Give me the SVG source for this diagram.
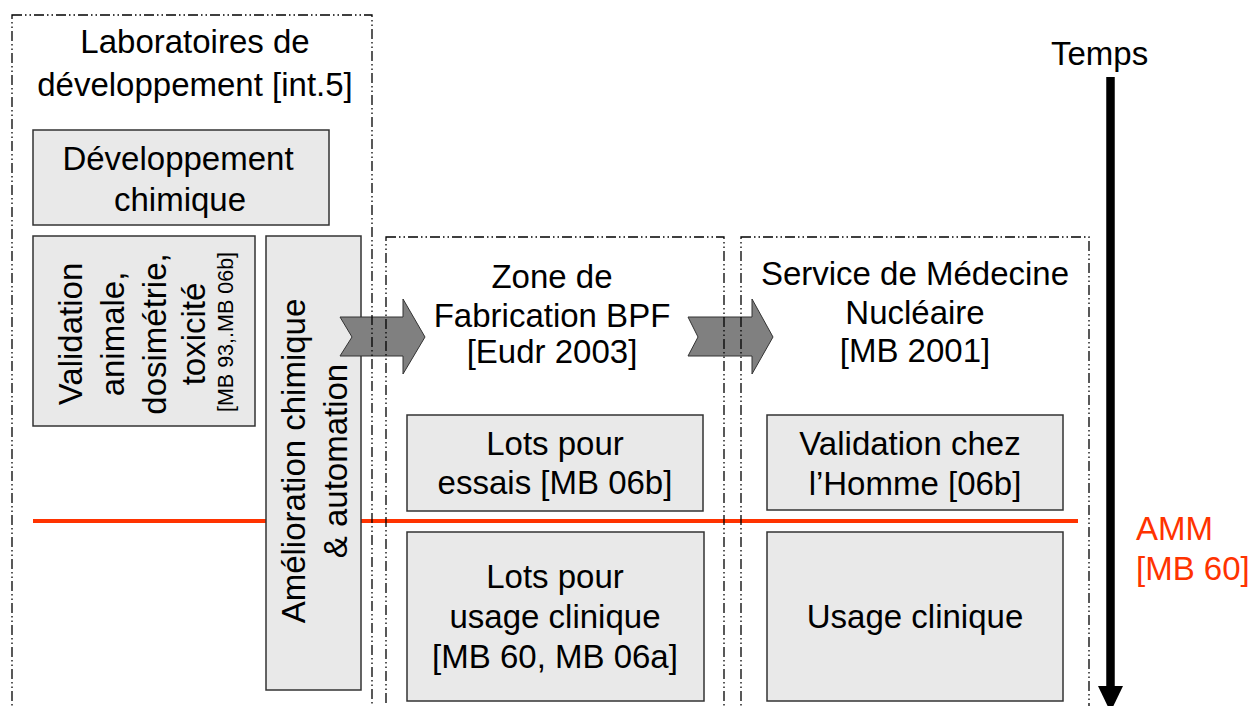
<svg xmlns="http://www.w3.org/2000/svg" width="1250" height="706" viewBox="0 0 1250 706">
<style>
  text { font-family: "Liberation Sans", Arial, sans-serif; font-size: 33px; fill: #000; }
  .c { text-anchor: middle; }
  .box { fill: #e9e9e9; stroke: #333; stroke-width: 1.5; }
  .zone { fill: none; stroke: #000; stroke-width: 1.3; stroke-dasharray: 10 3 1.5 3 1.5 3; }
  .arr { fill: #808080; stroke: #333; stroke-width: 1; }
  .red { fill: #ff3300; }
</style>
<rect width="1250" height="706" fill="#fff"/>

<!-- AMM line -->
<line id="amm-line" x1="33" y1="521" x2="1078" y2="521" stroke="#ff3300" stroke-width="4"/>

<g id="dev-chimique">
  <rect class="box" x="33" y="130" width="296" height="95"/>
  <text class="c" x="178" y="170">Développement</text>
  <text class="c" x="180" y="211">chimique</text>
</g>

<g id="validation-animale">
  <rect class="box" x="33" y="236" width="222" height="190"/>
  <text class="c" transform="translate(82,334) rotate(-90)">Validation</text>
  <text class="c" transform="translate(124,334) rotate(-90)">animale,</text>
  <text class="c" transform="translate(166,334) rotate(-90)">dosimétrie,</text>
  <text class="c" transform="translate(205,334) rotate(-90)">toxicité</text>
  <text class="c" style="font-size:21.5px" transform="translate(233,332) rotate(-90)">[MB 93,.MB 06b]</text>
</g>

<g id="amelioration">
  <rect class="box" x="266" y="236" width="95" height="454"/>
  <text class="c" transform="translate(305,461) rotate(-90)">Amélioration chimique</text>
  <text class="c" transform="translate(347,461) rotate(-90)">&amp; automation</text>
</g>

<g id="lots-essais">
  <rect class="box" x="407" y="415" width="296" height="96"/>
  <text class="c" x="555" y="455">Lots pour</text>
  <text class="c" x="555" y="494">essais [MB 06b]</text>
</g>

<g id="lots-clinique">
  <rect class="box" x="407" y="532" width="297" height="169"/>
  <text class="c" x="555" y="588">Lots pour</text>
  <text class="c" x="555" y="628">usage clinique</text>
  <text class="c" x="555" y="668">[MB 60, MB 06a]</text>
</g>

<g id="validation-homme">
  <rect class="box" x="767" y="415" width="296" height="95"/>
  <text class="c" x="910" y="455">Validation chez</text>
  <text class="c" x="915" y="495">l’Homme [06b]</text>
</g>

<g id="usage-clinique">
  <rect class="box" x="767" y="532" width="296" height="169"/>
  <text class="c" x="915" y="628">Usage clinique</text>
</g>

<g id="connectors">
  <polygon class="arr" points="340,317 403,317 403,299 425,337 403,374 403,356 340,356 352,337"/>
  <polygon class="arr" points="688,317 752,317 752,299 773,337 752,374 752,356 688,356 698,337"/>
</g>

<g id="laboratoires">
  <rect class="zone" x="12" y="15" width="360" height="720"/>
  <text class="c" x="195" y="53">Laboratoires de</text>
  <text class="c" x="195" y="96">développement [int.5]</text>
</g>

<g id="zone-fabrication">
  <rect class="zone" x="386" y="237" width="338" height="500"/>
  <text class="c" x="552" y="288">Zone de</text>
  <text class="c" x="552" y="327">Fabrication BPF</text>
  <text class="c" x="552" y="363">[Eudr 2003]</text>
</g>

<g id="service-medecine">
  <rect class="zone" x="741" y="237" width="348" height="500"/>
  <text class="c" x="915" y="285">Service de Médecine</text>
  <text class="c" x="915" y="324">Nucléaire</text>
  <text class="c" x="915" y="362">[MB 2001]</text>
</g>

<g id="temps">
  <text x="1051" y="65">Temps</text>
  <line x1="1110.5" y1="77" x2="1110.5" y2="690" stroke="#000" stroke-width="8.5"/>
  <polygon points="1098,686 1123,686 1110.5,712" fill="#000"/>
</g>

<g id="amm">
  <text class="red" x="1136" y="540">AMM</text>
  <text class="red" x="1136" y="580">[MB 60]</text>
</g>
</svg>
